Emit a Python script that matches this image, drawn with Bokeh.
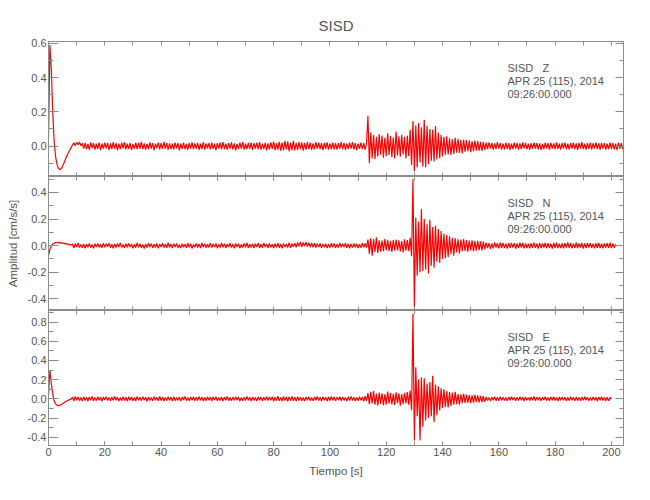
import numpy as np
from bokeh.plotting import figure
from bokeh.models import (LinearAxis, SingleIntervalTicker, FixedTicker, PrintfTickFormatter,
                          Range1d, Label, ColumnDataSource)
from bokeh.layouts import column
from bokeh.embed import file_html
from bokeh.resources import INLINE

# ---------------- data ----------------
TITLE = "SISD"
STATION = "SISD"
COMPONENTS = ["Z", "N", "E"]
DATE_TEXT = "APR 25 (115), 2014"
TIME_TEXT = "09:26:00.000"
X_LABEL = "Tiempo [s]"
Y_LABEL = "Amplitud [cm/s/s]"
DT = 0.5  # seconds between the values

# tick positions
X_TICKS = [0, 20, 40, 60, 80, 100, 120, 140, 160, 180, 200]
X_MINOR_TICKS = [0, 10, 20, 30, 40, 50, 60, 70, 80, 90, 100, 110, 120, 130, 140,
                 150, 160, 170, 180, 190, 200]
Y_TICKS = [-0.4, -0.2, 0.0, 0.2, 0.4, 0.6, 0.8]
Y_MINOR_TICKS = [-0.5, -0.3, -0.1, 0.1, 0.3, 0.5, 0.7, 0.9]

# amplitudes in units of 0.001 cm/s/s, one value every DT seconds from t = 0
z_milli = [
    50, 590, 450, 200, 30, -60, -105, -128, -137, -132, -118, -98, -78, -58, -40, -25, -10,
    6, 20, 3, 22, 9, 24, 2, 17,
    -14, 19, -17, 13, -20, 22, -12, 18, -21, 15, -16, 20, -23, 14, -15, 21, -13, 19, -22, 16,
    -18, 23, -14, 17, -24, 15, -17, 20, -13, 24, -19, 14, -16, 18, -22, 12, -15, 21, -18, 19,
    -14, 25, -18, 16, -20, 13, -17, 22, -15, 18, -23, 15, -12, 20, -19, 17, -16, 25, -14, 19,
    -21, 16, -17, 14, -19, 21, -13, 18, -24, 15, -16, 20, -18, 13, -21, 17, -14, 22, -17, 16,
    -15, 19, -22, 14, -17, 23, -20, 16, -13, 18, -19, 21, -16, 15, -23, 17, -14, 20, -18, 24,
    -17, 15, -21, 18, -14, 22, -19, 16, -24, 13, -17, 20, -15, 23, -20, 14, -18, 19, -16, 21,
    -22, 17, -15, 20, -18, 24, -21, 15, -17, 19, -25, 16, -19, 22, -16, 27, -23, 18, -20, 25,
    -27, 21, -24, 29, -19, 26, -30, 20, -23, 31, -25, 19, -21, 24, -18, 22, -26, 17, -20, 23,
    -17, 20, -22, 16, -19, 24, -15, 21, -18, 17, -23, 19, -16, 22, -20, 15, -17, 21, -19, 18,
    -21, 17, -15, 23, -18, 19, -22, 16, -17, 20, -14, 24, -19, 18, -23, 15, -16, 21, -18, 17,
    -20, 19,
    175, -98, 80, -70, 65, -75, 55, -60, 70, -50,
    62, -68, 48, -58, 75, -52, 60, -65, 50, -70,
    85, -55, 58, -62, 66, -48, 55, -72, 60, -58,
    95, -110, 146, -146, 120, -125, 135, -95, 110, -120,
    154, -123, 118, -105, 100, -85, 95, -90, 117, -78,
    80, -70, 65, -60, 55, -50, 58, -48, 45, -52,
    40, -45, 48, -38, 42, -40, 35, -42, 38, -32,
    36, -30, 33, -35, 28, -30, 32, -26, 29, -27,
    25, -28, 24, -22,
    20, -18, 22, -15, 19, -21, 16, -17, 23, -14, 18, -20, 15, -19, 21, -16, 17, -22, 14, -18,
    20, -15, 18, -21, 16, -17, 22, -13, 19, -18, 15, -20, 17, -16, 21, -14, 18, -19, 16, -22,
    13, -18, 20, -15, 17, -21, 19, -14, 16, -18, 22, -16, 15, -20, 18, -13, 21, -17, 14, -19,
    17, -15, 20, -18, 16, -22, 19, -14, 23, -17, 15, -20, 18, -16, 21, -19, 17, -15, 22, -18,
    16, -21, 19, -14, 18, -20, 15, -17, 21, -16, 18, -19, 14, -22, 20, -15, 17, -18, 19,
]

n_milli = [
    -75, -30, 0, 12, 18, 24, 20, 26, 19, 23, 16, 20, 12, 15, 8, 10, 4,
    12, -18, 15, -10, 20, -14, 9, -16, 13, -19, 11, -12, 17, -15, 8, -20, 14, -11, 16, -13,
    10, -17, 19, -12, 14, -9, 18, -15, 11, -20, 13, -14, 16, -10, 21, -13, 9, -18, 15, -12,
    17, -11, 13, -19, 10, -15, 20, -12, 14, -16, 9, -21, 12, -14, 18, -10, 15, -17, 11, -13,
    16, -20, 12, -9, 19, -14, 10, -16, 22, -12, 13, -18, 15, -11, 17, -15, 8, -19, 14, -12,
    11, -16, 18, -13, 15, -21, 9, -12, 17, -14, 12, -18, 20, -10, 14, -16, 11, -13, 19, -15,
    13, -11, 16, -19, 10, -14, 21, -12, 15, -17, 12, -9, 18, -15, 13, -20, 16, -11, 14, -18,
    9, -14, 17, -12, 20, -16, 11, -13, 15, -19, 14, -10, 18, -17, 12, -15, 21, -11, 13, -16,
    16, -13, 10, -18, 14, -12, 19, -15, 12, -20, 17, -11, 13, -14, 22, -16, 15, -9, 18, -13,
    25, -5, 28, -8, 24, -3, 27, -6, 22, -10, 20, -12, 18, -14, 15, -11, 17, -16, 12, -13,
    14, -18, 11, -15, 19, -12, 16, -17, 10, -14, 20, -13, 15, -11, 18, -16, 12, -19, 13, -15,
    17, -12, 14, -18, 11, -15, 19, -13, 16, -14,
    45, -60, 55, -75, 50, -48, 62, -55, 40, -45,
    38, -42, 50, -35, 44, -40, 36, -48, 42, -38,
    46, -36, 40, -44, 35, -50, 48, -38, 42, -40,
    60, -80, 500, -460, 210, -225, 180, -200, 275, -190,
    200, -180, 160, -210, 195, -150, 140, -165, 150, -120,
    125, -130, 110, -100, 90, -95, 80, -85, 70, -65,
    60, -75, 55, -50, 48, -58, 45, -42, 50, -40,
    42, -45, 38, -36, 40, -42, 34, -38, 36, -33,
    32, -35, 30, -28,
    22, -18, 19, -24, 16, -20, 25, -15, 18, -21, 23, -17, 20, -19, 15, -22, 18, -16, 21, -14,
    19, -23, 16, -18, 22, -15, 20, -21, 17, -19, 14, -20, 18, -16, 23, -17, 15, -22, 19, -18,
    16, -14, 21, -19, 18, -17, 15, -23, 20, -16, 22, -18, 14, -19, 17, -21, 19, -15, 24, -17,
    18, -20, 15, -16, 22, -19, 17, -14, 20, -22, 16, -18, 21, -15, 19, -17, 14, -20, 18, -16,
    20, -18, 15, -21, 17, -14, 19, -16, 22, -18, 16, -15, 10,
]

e_milli = [
    35, 295, 160, 50, -20, -52, -66, -70, -68, -60, -50, -40, -30, -22, -14, -8, -3,
    18, -22, 25, -15, 20, -19, 14, -24, 21, -17, 16, -23, 19, -14, 26, -20, 15, -18, 22, -16,
    17, -25, 20, -13, 23, -18, 15, -21, 19, -16, 24, -14, 18, -22, 13, -19, 21, -17, 16, -24,
    22, -15, 19, -20, 14, -23, 25, -16, 18, -19, 21, -13, 17, -25, 20, -18, 15, -21, 23, -14,
    16, -20, 24, -17, 19, -22, 13, -18, 21, -15, 17, -24, 22, -19, 14, -16, 20, -23, 18, -13,
    25, -18, 15, -21, 19, -14, 22, -20, 16, -17, 23, -15, 18, -22, 14, -19, 21, -16, 17, -24,
    19, -13, 23, -20, 15, -18, 20, -22, 17, -14, 24, -19, 13, -21, 18, -16, 22, -15, 19, -23,
    14, -21, 18, -17, 25, -15, 16, -22, 20, -18, 15, -24, 21, -14, 19, -20, 17, -16, 23, -19,
    20, -16, 22, -25, 18, -19, 27, -21, 15, -23, 24, -18, 19, -26, 21, -17, 25, -20, 16, -22,
    23, -17, 18, -21, 15, -24, 20, -16, 22, -19, 14, -20, 19, -15, 25, -18, 17, -22, 21, -14,
    16, -23, 20, -18, 24, -15, 19, -21, 17, -13, 22, -20, 18, -16, 15, -24, 21, -19, 26, -17,
    18, -22, 15, -20, 23, -16, 19, -25, 28, -21,
    60, -55, 72, -48, 80, -62, 55, -70, 65, -52,
    58, -66, 48, -60, 75, -50, 62, -58, 52, -64,
    68, -45, 56, -72, 50, -55, 63, -48, 70, -60,
    85, -120, 885, -434, 330, -180, 200, -434, 225, -290,
    215, -226, 160, -200, 175, -180, 240, -240, 150, -170,
    130, -120, 110, -95, 100, -85, 80, -90, 70, -75,
    65, -60, 72, -55, 50, -62, 48, -45, 55, -42,
    45, -40, 38, -44, 35, -40, 42, -33, 36, -38,
    30, -34, 28, -32,
    20, -17, 15, -22, 18, -14, 21, -19, 16, -20, 23, -15, 17, -18, 14, -21, 19, -16, 22, -13,
    15, -20, 18, -17, 21, -14, 16, -22, 19, -15, 13, -18, 20, -16, 24, -19, 17, -14, 18, -21,
    16, -13, 22, -18, 14, -20, 19, -15, 21, -17, 15, -22, 18, -14, 20, -16, 17, -19, 13, -18,
    21, -15, 16, -20, 19, -17, 14, -21, 18, -16, 22, -13, 17, -19, 15, -18, 20, -14, 16, -22,
    18, -15, 21, -17, 14, -19, 16, -20, 15, -5,
]

X_RANGE = (0.0, 204.3)
Y_RANGES = [(-0.177, 0.61), (-0.4875, 0.52), (-0.486, 0.92)]

# ---------------- styling ----------------
FONT = "Liberation Sans"
TEXT_COLOR = "#555555"
AXIS_COLOR = "#8c8c8c"
TRACE_COLOR = "#ff0000"

FRAME_HEIGHTS = [135, 134, 135]
TOP_BORDERS = [41, 0, 0]
BOTTOM_BORDERS = [0, 0, 47]
LEFT, RIGHT, WIDTH = 48, 17, 640

shared_x = Range1d(*X_RANGE)


def tick_only_axis(minor_positions, length):
    """Axis that only draws inward tick marks (no labels)."""
    ax = LinearAxis(ticker=FixedTicker(ticks=[], minor_ticks=minor_positions))
    ax.axis_line_color = AXIS_COLOR
    ax.minor_tick_line_color = AXIS_COLOR
    ax.minor_tick_in = length
    ax.minor_tick_out = 0
    ax.major_tick_in = 0
    ax.major_tick_out = 0
    return ax


def make_panel(i, values, comp):
    fh = FRAME_HEIGHTS[i]
    p = figure(width=WIDTH, height=fh + TOP_BORDERS[i] + BOTTOM_BORDERS[i],
               x_range=shared_x, y_range=Range1d(*Y_RANGES[i]),
               x_axis_type=None, y_axis_type=None,
               output_backend="svg", toolbar_location=None,
               min_border_left=LEFT, min_border_right=RIGHT,
               min_border_top=TOP_BORDERS[i], min_border_bottom=BOTTOM_BORDERS[i])
    p.outline_line_color = AXIS_COLOR
    p.background_fill_color = "white"
    p.border_fill_color = "white"

    # left: labelled y axis
    left = LinearAxis(ticker=SingleIntervalTicker(interval=0.2, num_minor_ticks=2),
                      formatter=PrintfTickFormatter(format="%.1f"))
    left.axis_line_color = AXIS_COLOR
    left.major_tick_line_color = AXIS_COLOR
    left.minor_tick_line_color = AXIS_COLOR
    left.major_tick_in, left.major_tick_out = 10, 0
    left.minor_tick_in, left.minor_tick_out = 5, 0
    left.major_label_text_font = FONT
    left.major_label_text_font_size = "11px"
    left.major_label_text_color = TEXT_COLOR
    left.major_label_standoff = 2
    if i == 1:
        left.axis_label = Y_LABEL
        left.axis_label_text_font = FONT
        left.axis_label_text_font_size = "11.5px"
        left.axis_label_text_font_style = "normal"
        left.axis_label_text_color = TEXT_COLOR
        left.axis_label_standoff = 6
    p.add_layout(left, "left")

    # right: inward ticks only
    p.add_layout(tick_only_axis(Y_TICKS, 8), "right")
    p.add_layout(tick_only_axis(Y_MINOR_TICKS, 4), "right")

    # top: inward ticks only
    p.add_layout(tick_only_axis(X_MINOR_TICKS, 4), "above")

    # bottom
    if i == 2:
        bottom = LinearAxis(ticker=FixedTicker(ticks=X_TICKS, minor_ticks=X_MINOR_TICKS),
                            formatter=PrintfTickFormatter(format="%d"))
        bottom.axis_line_color = AXIS_COLOR
        bottom.major_tick_line_color = AXIS_COLOR
        bottom.minor_tick_line_color = AXIS_COLOR
        bottom.major_tick_in, bottom.major_tick_out = 4, 0
        bottom.minor_tick_in, bottom.minor_tick_out = 4, 0
        bottom.major_label_text_font = FONT
        bottom.major_label_text_font_size = "11px"
        bottom.major_label_text_color = TEXT_COLOR
        bottom.major_label_standoff = 2
        bottom.axis_label = X_LABEL
        bottom.axis_label_text_font = FONT
        bottom.axis_label_text_font_size = "11.5px"
        bottom.axis_label_text_font_style = "normal"
        bottom.axis_label_text_color = TEXT_COLOR
        bottom.axis_label_standoff = 6
        p.add_layout(bottom, "below")
    else:
        p.add_layout(tick_only_axis(X_MINOR_TICKS, 4), "below")

    t = np.arange(len(values)) * DT
    a = np.asarray(values, dtype=float) / 1000.0
    src = ColumnDataSource(dict(t=t, a=a))
    p.line("t", "a", source=src, line_color=TRACE_COLOR, line_width=1.2)

    for txt, sx, dy in [(STATION, 459, 26), (comp, 494, 26),
                        (DATE_TEXT, 459, 39.3), (TIME_TEXT, 459, 52.6)]:
        p.add_layout(Label(x=sx, y=fh - dy, x_units="screen", y_units="screen",
                           text=txt, text_font=FONT, text_font_size="11px",
                           text_color=TEXT_COLOR, text_baseline="alphabetic"))
    return p


panels = [make_panel(i, v, c) for i, (v, c) in
          enumerate(zip([z_milli, n_milli, e_milli], COMPONENTS))]

p1 = panels[0]
p1.title.text = TITLE
p1.title.align = "center"
p1.title.text_font = FONT
p1.title.text_font_size = "15px"
p1.title.text_font_style = "normal"
p1.title.text_color = TEXT_COLOR
p1.title.standoff = 15

layout = column(*panels, spacing=0)
open("out.html", "w").write(file_html(layout, INLINE))
